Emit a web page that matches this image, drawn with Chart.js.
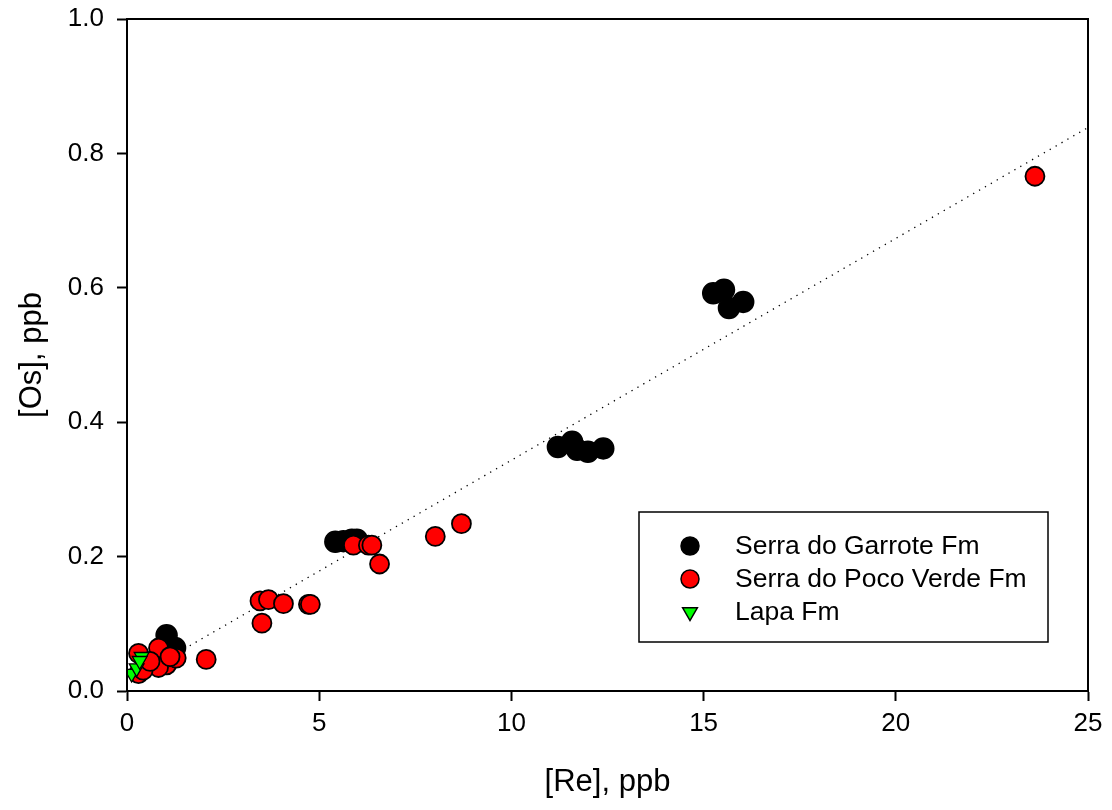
<!DOCTYPE html>
<html>
<head>
<meta charset="utf-8">
<script src="https://cdn.jsdelivr.net/npm/chart.js@4"></script>
<style>
  body { margin: 0; background: #fff; }
  #wrap { width: 1112px; height: 810px; }
</style>
</head>
<body>
<div id="wrap"><canvas id="chart" width="1112" height="810"></canvas></div>
<script>
const garroteRe = [15.25, 15.53, 15.66, 16.03, 11.21, 11.58, 11.71, 11.99, 12.39, 5.42, 5.63, 5.85, 5.98, 1.03, 1.25, 1.1];
const garroteOs = [0.592, 0.597, 0.570, 0.579, 0.363, 0.371, 0.359, 0.356, 0.361, 0.222, 0.223, 0.225, 0.225, 0.083, 0.064, 0.055];

const pocoRe = [23.62, 8.70, 8.02, 5.89, 6.28, 6.37, 6.57, 3.46, 3.68, 4.07, 4.72, 4.77, 3.51, 2.06, 0.30, 0.82, 1.03, 0.82, 1.28, 0.30, 0.42, 0.60, 1.12];
const pocoOs = [0.766, 0.249, 0.230, 0.217, 0.217, 0.217, 0.189, 0.134, 0.136, 0.130, 0.129, 0.129, 0.101, 0.047, 0.056, 0.064, 0.039, 0.035, 0.049, 0.026, 0.031, 0.044, 0.051];

const lapaRe = [0.38, 0.12, 0.25, 0.33];
const lapaOs = [0.051, 0.026, 0.034, 0.045];

// regression line
const trendSlope = 0.033;
const trendIntercept = 0.0135;
const trendRe = [0.1, 25];

const xTicks = [0, 5, 10, 15, 20, 25];
const yTicks = [0.0, 0.2, 0.4, 0.6, 0.8, 1.0];

const seriesNames = ['Serra do Garrote Fm', 'Serra do Poco Verde Fm', 'Lapa Fm'];

const toPoints = (xs, ys) => xs.map((x, i) => ({x: x, y: ys[i]}));

const FONT = "'Liberation Sans', Arial, sans-serif";

const framePlugin = {
    id: 'frame',
    afterDatasetsDraw(chart) {
        const {ctx, chartArea: a} = chart;
        ctx.save();
        ctx.strokeStyle = '#000';
        ctx.lineWidth = 2;
        ctx.strokeRect(a.left, a.top, a.right - a.left, a.bottom - a.top);
        ctx.restore();
    }
};

const legendPlugin = {
    id: 'boxLegend',
    afterDraw(chart) {
        const ctx = chart.ctx;
        const box = {x: 639, y: 512, w: 409, h: 130};
        ctx.save();
        ctx.fillStyle = '#fff';
        ctx.fillRect(box.x, box.y, box.w, box.h);
        ctx.strokeStyle = '#000';
        ctx.lineWidth = 1.5;
        ctx.strokeRect(box.x, box.y, box.w, box.h);
        ctx.font = '26.5px ' + FONT;
        ctx.textBaseline = 'middle';
        const rows = [546, 579, 612];
        const styles = [
            {fill: '#000000', r: 9, shape: 'circle'},
            {fill: '#ff0000', r: 9, shape: 'circle'},
            {fill: '#00ff00', r: 8.5, shape: 'triangle'}
        ];
        rows.forEach((ry, i) => {
            const s = styles[i];
            ctx.fillStyle = s.fill;
            ctx.strokeStyle = '#000';
            ctx.lineWidth = 1.5;
            ctx.beginPath();
            if (s.shape === 'circle') {
                ctx.arc(690, ry, s.r, 0, Math.PI * 2);
            } else {
                const size = s.r * Math.sqrt(3);
                ctx.moveTo(690 - size / 2, ry - s.r / 2);
                ctx.lineTo(690 + size / 2, ry - s.r / 2);
                ctx.lineTo(690, ry + s.r);
                ctx.closePath();
            }
            ctx.fill();
            ctx.stroke();
            ctx.fillStyle = '#000';
            ctx.fillText(seriesNames[i], 735, ry + 1);
        });
        ctx.restore();
    }
};

new Chart(document.getElementById('chart').getContext('2d'), {
    type: 'scatter',
    data: {
        datasets: [
            {
                label: 'fit',
                type: 'line',
                data: toPoints(trendRe, trendRe.map(x => trendIntercept + trendSlope * x)),
                borderColor: '#000',
                borderWidth: 1.3,
                borderDash: [1.3, 5.5],
                pointRadius: 0,
                fill: false,
                order: 5
            },
            {
                label: seriesNames[0],
                data: toPoints(garroteRe, garroteOs),
                backgroundColor: '#000000',
                borderColor: '#000000',
                borderWidth: 1.5,
                pointRadius: 10.5,
                order: 3
            },
            {
                label: seriesNames[1],
                data: toPoints(pocoRe, pocoOs),
                backgroundColor: '#ff0000',
                borderColor: '#000000',
                borderWidth: 1.8,
                pointRadius: 9.5,
                order: 2
            },
            {
                label: seriesNames[2],
                data: toPoints(lapaRe, lapaOs),
                backgroundColor: '#00ff00',
                borderColor: '#000000',
                borderWidth: 1.3,
                pointStyle: 'triangle',
                rotation: 180,
                pointRadius: 8.5,
                order: 1
            }
        ]
    },
    options: {
        responsive: false,
        animation: false,
        layout: { padding: {top: 19, right: 24, left: 0, bottom: 0} },
        plugins: {
            legend: { display: false },
            tooltip: { enabled: false }
        },
        scales: {
            x: {
                type: 'linear',
                min: 0,
                max: 25,
                afterFit(scale) {
                    scale.height = 119;
                    scale.paddingLeft = 0;
                    scale.paddingRight = 0;
                },
                afterBuildTicks(scale) { scale.ticks = xTicks.map(v => ({value: v})); },
                ticks: {
                    color: '#000',
                    font: {family: FONT, size: 26},
                    padding: 7,
                    maxRotation: 0
                },
                grid: {
                    drawOnChartArea: false,
                    drawTicks: true,
                    tickLength: 10,
                    tickWidth: 2,
                    color: '#000'
                },
                border: { display: true, color: '#000', width: 2 },
                title: {
                    display: true,
                    text: '[Re], ppb',
                    color: '#000',
                    font: {family: FONT, size: 31},
                    padding: {top: 0, bottom: 9}
                }
            },
            y: {
                type: 'linear',
                min: 0,
                max: 1,
                afterFit(scale) {
                    scale.width = 127;
                    scale.paddingTop = 0;
                    scale.paddingBottom = 0;
                },
                afterBuildTicks(scale) { scale.ticks = yTicks.map(v => ({value: v})); },
                ticks: {
                    color: '#000',
                    font: {family: FONT, size: 26},
                    padding: 13,
                    callback: v => v.toFixed(1)
                },
                grid: {
                    drawOnChartArea: false,
                    drawTicks: true,
                    tickLength: 10,
                    tickWidth: 2,
                    color: '#000'
                },
                border: { display: true, color: '#000', width: 2 },
                title: {
                    display: true,
                    text: '[Os], ppb',
                    color: '#000',
                    font: {family: FONT, size: 31},
                    padding: {top: 14, bottom: 0}
                }
            }
        }
    },
    plugins: [framePlugin, legendPlugin]
});
</script>
</body>
</html>
